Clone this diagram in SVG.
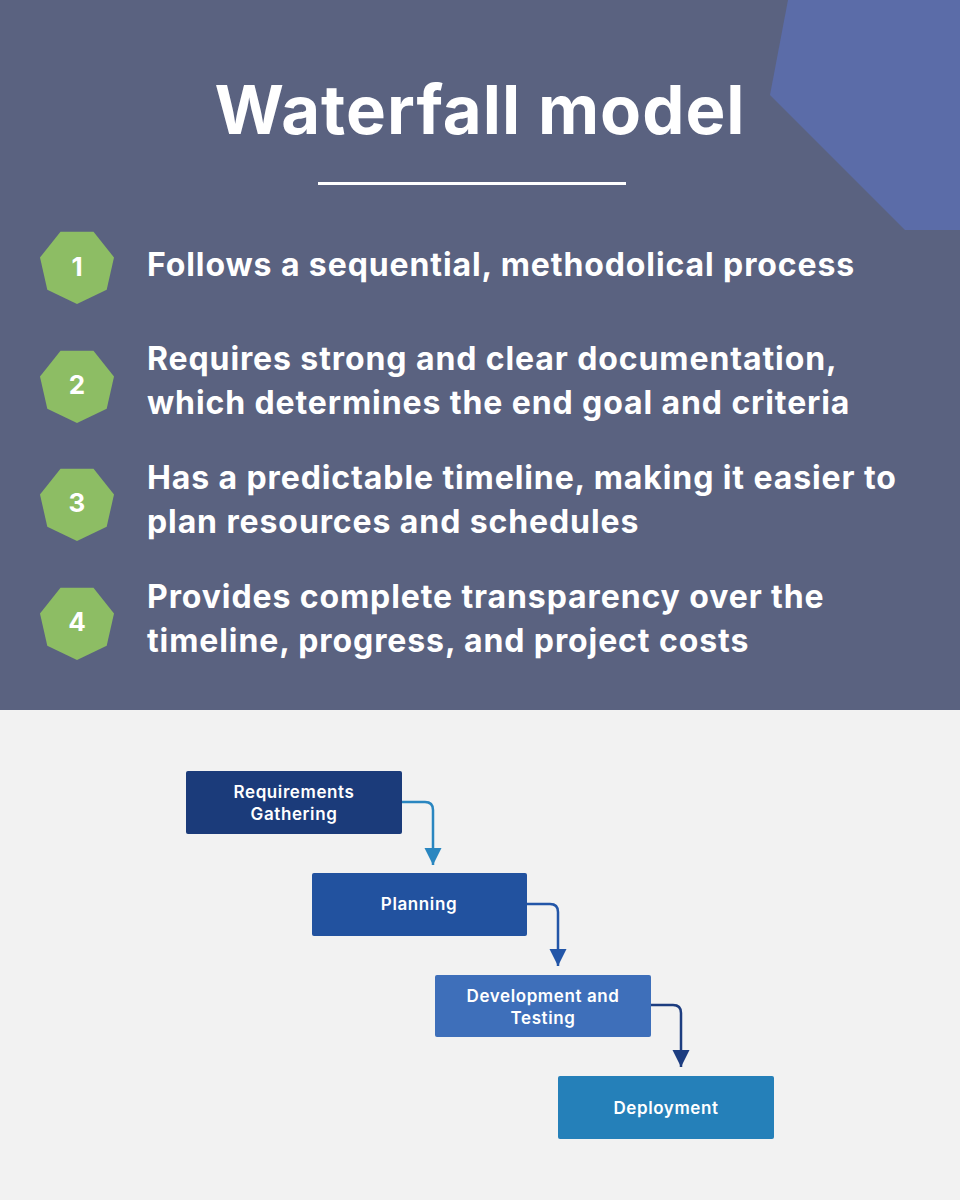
<svg xmlns="http://www.w3.org/2000/svg" width="960" height="1200" viewBox="0 0 960 1200">
<defs>
<style>
.t{font-family:Inter,"Open Sans","Liberation Sans",sans-serif;font-weight:700;fill:#fff}
.b{font-size:32px;letter-spacing:0.9px}
.n{font-size:26px;text-anchor:middle}
.h{fill:#8dbd64}
.bx{font-family:Inter,"Open Sans","Liberation Sans",sans-serif;font-weight:600;font-size:17px;letter-spacing:0.6px;fill:#fff;text-anchor:middle}
.c{fill:none;stroke-width:2.5}
</style>
<marker id="m1" viewBox="0 0 10 10" refX="10" refY="5" markerWidth="7" markerHeight="7" orient="auto"><path d="M0,0 L10,5 L0,10Z" fill="#2a86c0"/></marker>
<marker id="m2" viewBox="0 0 10 10" refX="10" refY="5" markerWidth="7" markerHeight="7" orient="auto"><path d="M0,0 L10,5 L0,10Z" fill="#2356a8"/></marker>
<marker id="m3" viewBox="0 0 10 10" refX="10" refY="5" markerWidth="7" markerHeight="7" orient="auto"><path d="M0,0 L10,5 L0,10Z" fill="#1d3d80"/></marker>
<polygon id="hep" points="0,38 -29.7,23.7 -37,-8.5 -16.5,-34.2 16.5,-34.2 37,-8.5 29.7,23.7"/>
</defs>
<rect width="960" height="710" fill="#5a6280"/>
<rect y="710" width="960" height="490" fill="#f2f2f2"/>
<polygon points="788,0 960,0 960,230 905,230 770,95" fill="#5b6ca8"/>
<text class="t" x="480" y="134" font-size="67" letter-spacing="1" text-anchor="middle">Waterfall model</text>
<rect x="318" y="182" width="308" height="3" fill="#fff"/>
<g id="item1"><use href="#hep" class="h" x="77" y="266"/><text class="t n" x="77" y="276">1</text>
<text class="t b" x="147" y="276">Follows a sequential, methodolical process</text></g>
<g id="item2"><use href="#hep" class="h" x="77" y="385"/><text class="t n" x="77" y="394">2</text>
<text class="t b" x="147" y="370">Requires strong and clear documentation,</text><text class="t b" x="147" y="414">which determines the end goal and criteria</text></g>
<g id="item3"><use href="#hep" class="h" x="77" y="503"/><text class="t n" x="77" y="512">3</text>
<text class="t b" x="147" y="489">Has a predictable timeline, making it easier to</text><text class="t b" x="147" y="533">plan resources and schedules</text></g>
<g id="item4"><use href="#hep" class="h" x="77" y="622"/><text class="t n" x="77" y="631">4</text>
<text class="t b" x="147" y="608">Provides complete transparency over the</text><text class="t b" x="147" y="652">timeline, progress, and project costs</text></g>
<g id="connectors">
<path class="c" stroke="#2a86c0" d="M402,802 H425 Q433,802 433,810 V865" marker-end="url(#m1)"/>
<path class="c" stroke="#2356a8" d="M527,904 H550 Q558,904 558,912 V966" marker-end="url(#m2)"/>
<path class="c" stroke="#1d3d80" d="M651,1005 H673 Q681,1005 681,1013 V1067" marker-end="url(#m3)"/>
</g>
<g id="req"><rect x="186" y="771" width="216" height="63" rx="2" fill="#1b3b7a"/><text class="bx" x="294" y="798">Requirements</text><text class="bx" x="294" y="820">Gathering</text></g>
<g id="plan"><rect x="312" y="873" width="215" height="63" rx="2" fill="#22529f"/><text class="bx" x="419" y="910">Planning</text></g>
<g id="dev"><rect x="435" y="975" width="216" height="62" rx="2" fill="#3e6fba"/><text class="bx" x="543" y="1002">Development and</text><text class="bx" x="543" y="1024">Testing</text></g>
<g id="dep"><rect x="558" y="1076" width="216" height="63" rx="2" fill="#2580b9"/><text class="bx" x="666" y="1114">Deployment</text></g>
</svg>
